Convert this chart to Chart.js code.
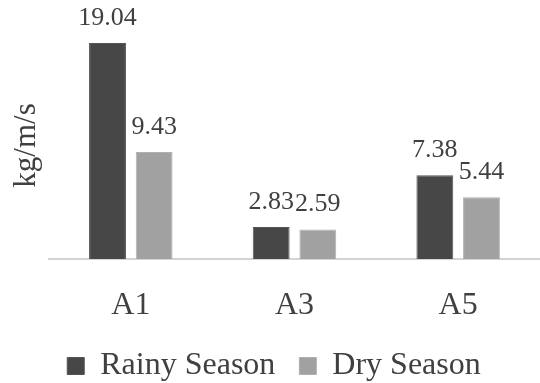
<!DOCTYPE html>
<html>
<head>
<meta charset="utf-8">
<script src="https://cdn.jsdelivr.net/npm/chart.js@4.4.1/dist/chart.umd.min.js"></script>
<style>
  html, body { margin: 0; padding: 0; background: #fff; }
  #wrap { width: 540px; height: 383px; }
</style>
</head>
<body>
<div id="wrap"><canvas id="chart" width="540" height="383"></canvas></div>
<script>
// categories and series
const sites = ['A1', 'A3', 'A5'];
const rainySeason = [19.04, 2.83, 7.38];
const drySeason = [9.43, 2.59, 5.44];
const seriesNames = ['Rainy Season', 'Dry Season'];

const textColor = '#404040';
const serif = "'Liberation Serif', 'Times New Roman', serif";

// draw value labels above every bar
const barValues = {
    id: 'barValues',
    afterDatasetsDraw: (chart) => {
        const ctx = chart.ctx;
        ctx.save();
        ctx.fillStyle = textColor;
        ctx.font = '26px ' + serif;
        ctx.textAlign = 'center';
        ctx.textBaseline = 'bottom';
        chart.data.datasets.forEach((ds, i) => {
            chart.getDatasetMeta(i).data.forEach((bar, j) => {
                ctx.fillText(ds.data[j].toFixed(2), bar.x, bar.y - 12);
            });
        });
        ctx.restore();
    }
};

new Chart(document.getElementById('chart'), {
    type: 'bar',
    data: {
        labels: sites,
        datasets: [{
            label: seriesNames[0],
            data: rainySeason,
            backgroundColor: '#474747',
            borderColor: '#555555',
            borderWidth: 1
        }, {
            label: seriesNames[1],
            data: drySeason,
            backgroundColor: '#a1a1a1',
            borderColor: '#b0b0b0',
            borderWidth: 1
        }]
    },
    plugins: [barValues],
    options: {
        responsive: false,
        animation: false,
        categoryPercentage: 0.57,
        barPercentage: 0.79,
        layout: { padding: { top: 32, left: 8, right: 0, bottom: 0 } },
        plugins: {
            tooltip: { enabled: false },
            legend: {
                position: 'bottom',
                maxHeight: 57,
                labels: {
                    color: textColor,
                    font: { family: serif, size: 32 },
                    boxWidth: 17,
                    boxHeight: 17,
                    padding: 24
                }
            }
        },
        scales: {
            x: {
                grid: { display: false },
                border: { display: true, color: '#d4d4d4', width: 2 },
                ticks: {
                    color: textColor,
                    font: { family: serif, size: 32 },
                    padding: 19
                },
                afterFit: (scale) => { scale.height = 67; }
            },
            y: {
                min: 0,
                max: 20,
                grid: { display: false },
                border: { display: false },
                ticks: { display: false },
                title: {
                    display: true,
                    text: 'kg/m/s',
                    color: textColor,
                    font: { family: serif, size: 31 },
                    padding: { top: 0, bottom: 0 }
                },
                afterFit: (scale) => { scale.width = 41; }
            }
        }
    }
});
</script>
</body>
</html>
